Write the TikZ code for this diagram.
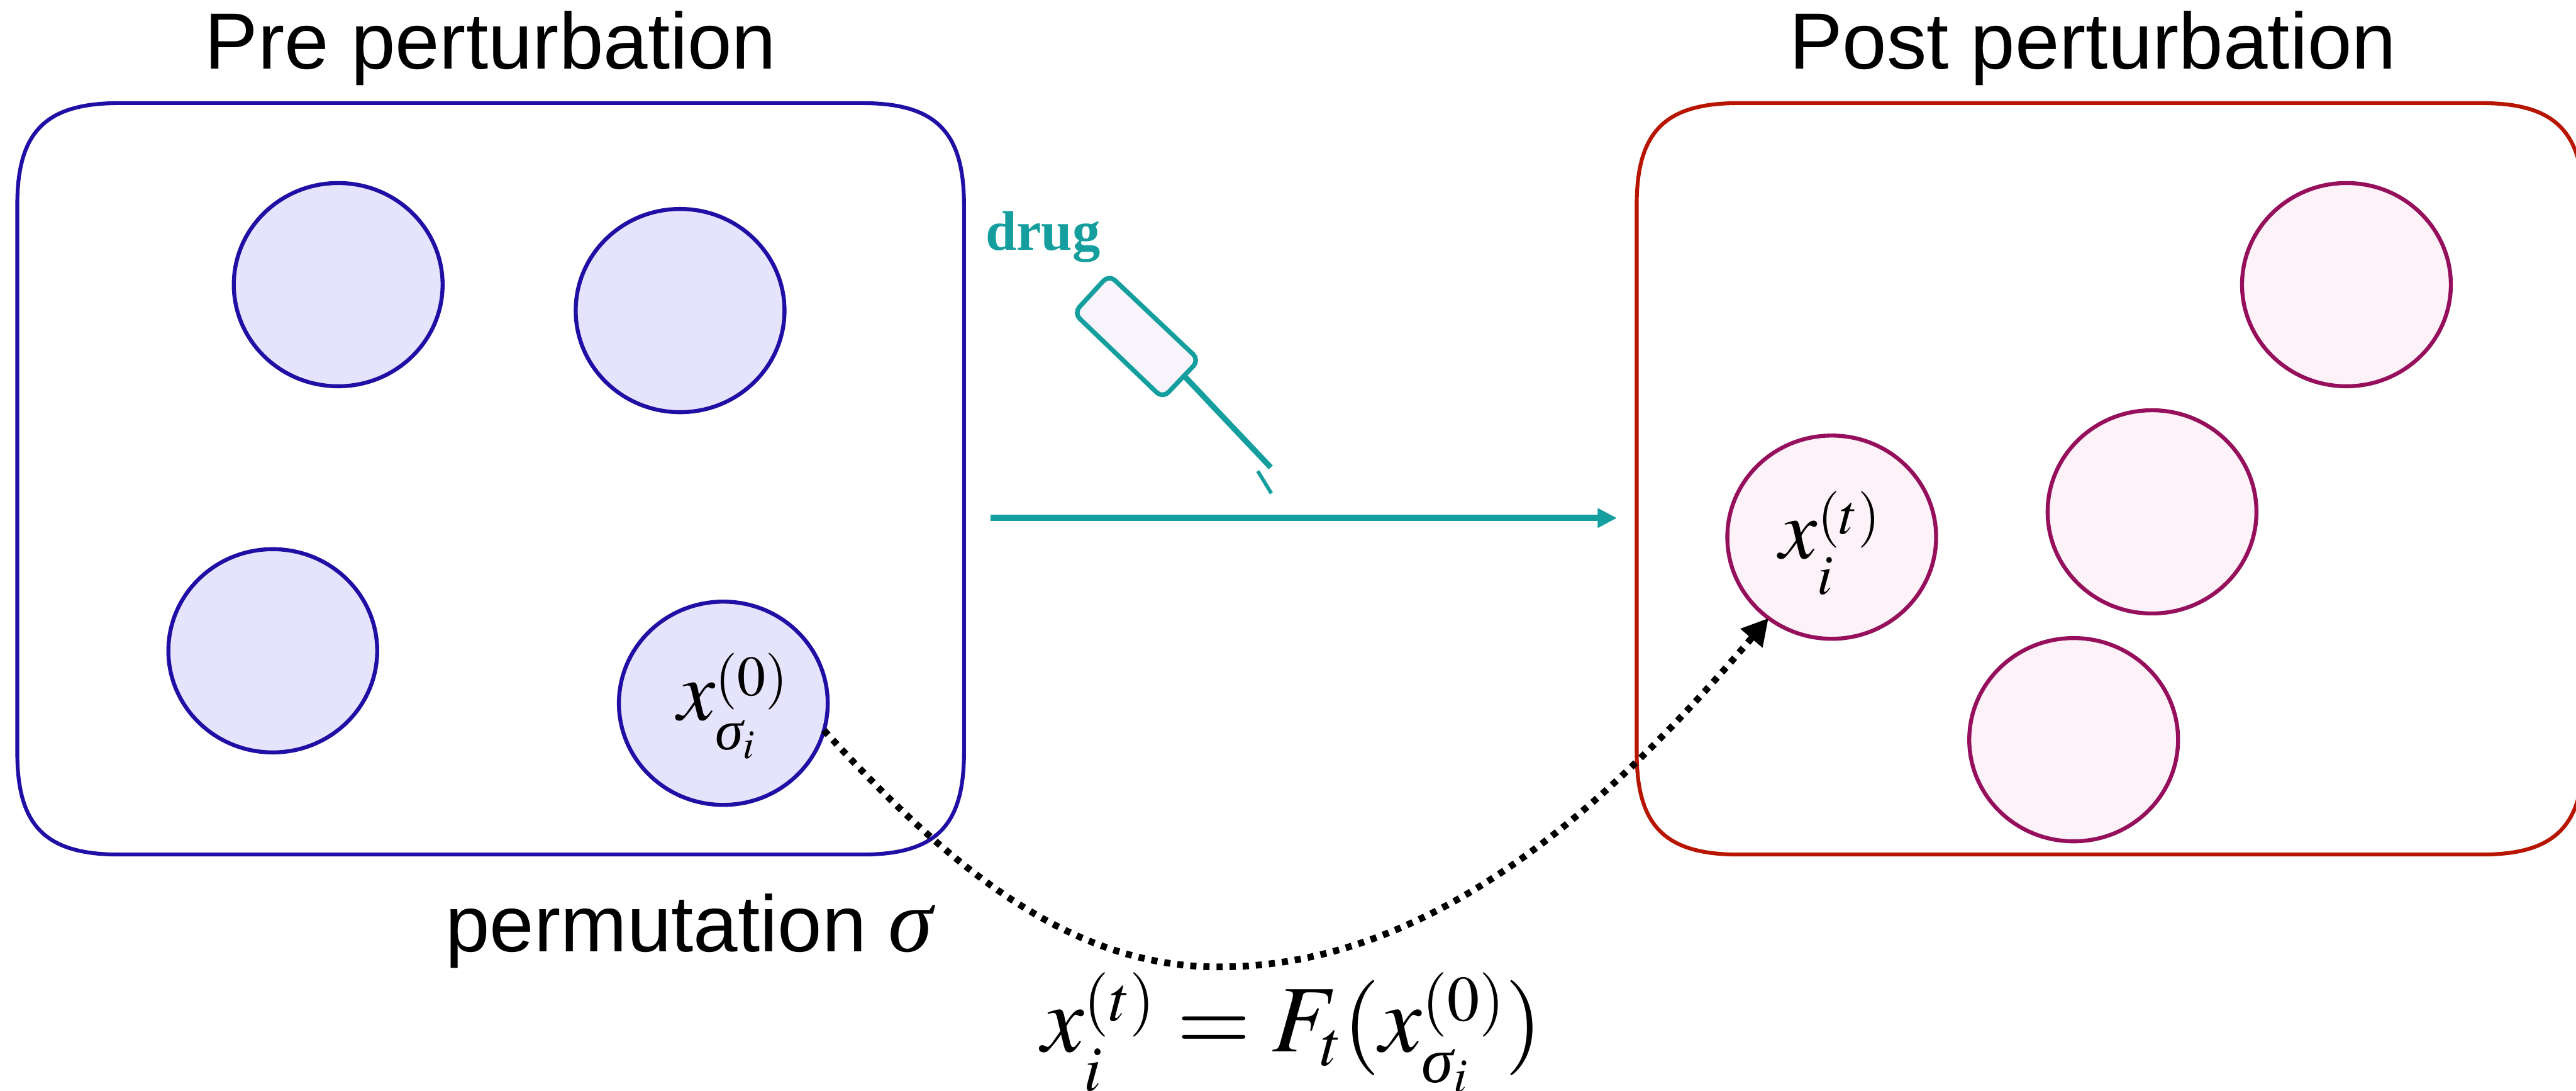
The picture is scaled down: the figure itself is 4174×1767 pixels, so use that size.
\documentclass[tikz,border=0pt]{standalone}
\usepackage{mathptmx}
\usepackage{amsmath}
\usepackage[no-math]{fontspec}
\setmainfont{Liberation Sans}
\newfontfamily\drugfont{Liberation Serif}
\newcommand{\sgm}{\text{\drugfont\itshape σ}}
\newcommand{\shiftscr}[2]{\smash{\raisebox{-#1pt}{$\scriptstyle #2$}}}
\DeclareMathSizes{33}{33}{22}{16}
\DeclareMathSizes{37}{37}{25}{19}
\usetikzlibrary{shapes.geometric,arrows.meta}
\definecolor{preblue}{HTML}{1F0FA5}
\definecolor{prefill}{HTML}{E6E4FC}
\definecolor{postred}{HTML}{B81500}
\definecolor{postline}{HTML}{960F5C}
\definecolor{postfill}{HTML}{FEF2F9}
\definecolor{drugteal}{HTML}{149E9E}
\definecolor{vialfill}{HTML}{F7F5FB}
\tikzset{
  frame/.style={line width=1.5pt},
  cell/.style={ellipse,draw,line width=1.55pt,minimum width=81.2pt,minimum height=79pt,inner sep=0pt,outer sep=0pt},
  precell/.style={cell,draw=preblue,fill=prefill},
  postcell/.style={cell,draw=postline,fill=postfill},
  heading/.style={font=\fontsize{31}{37}\selectfont,anchor=base,inner sep=0pt},
  mathlabel/.style={font=\fontsize{33}{40}\selectfont,anchor=base west,inner sep=0pt},
}
\begin{document}
\begin{tikzpicture}[x=0.24pt,y=-0.24pt]
\useasboundingbox (0,0) rectangle (4174,1767);
% frames
\draw[frame,preblue] (28,332) .. controls (28,213) and (74,167) .. (193,167) -- (1397,167) .. controls (1516,167) and (1562,213) .. (1562,332) -- (1562,1219) .. controls (1562,1338) and (1516,1384) .. (1397,1384) -- (193,1384) .. controls (74,1384) and (28,1338) .. (28,1219) -- cycle;
\draw[frame,postred] (2652,332) .. controls (2652,213) and (2698,167) .. (2817,167) -- (4021,167) .. controls (4140,167) and (4186,213) .. (4186,332) -- (4186,1219) .. controls (4186,1338) and (4140,1384) .. (4021,1384) -- (2817,1384) .. controls (2698,1384) and (2652,1338) .. (2652,1219) -- cycle;
% headings
\node[heading] (prehead) at (795,112) {Pre perturbation};
\node[heading] (posthead) at (3391,112) {Post perturbation};
% cells
\node[precell] (a1) at (548,461) {};
\node[precell] (a2) at (1102,503) {};
\node[precell] (a3) at (442,1054) {};
\node[precell] (a4) at (1172,1139) {};
\node[mathlabel] (a4text) at (1097,1166) {$x_{\shiftscr{3.5}{\sgm_i}}^{\shiftscr{2.5}{(0)}}$};
\node[postcell] (b1) at (3802,461) {};
\node[postcell] (b2) at (3487,829) {};
\node[postcell] (b3) at (2968,870) {};
\node[mathlabel] (b3text) at (2883,904) {$x_{\shiftscr{6}{i}}^{\shiftscr{2.5}{(t)}}$};
\node[postcell] (b4) at (3360,1198) {};
% drug
\node[font=\drugfont\bfseries\fontsize{21.7}{26}\selectfont,text=drugteal,anchor=base west,inner sep=0pt] (druglabel) at (1596,405) {drug};
\draw[line width=1.8pt,draw=drugteal,fill=vialfill,rounded corners=3.2pt] (1797,445) -- (1943,583) -- (1884,645) -- (1740,507) -- cycle;
\coordinate (needleA) at (1918,608);
\coordinate (needleB) at (2059,757);
\coordinate (tipA) at (2038,763);
\coordinate (tipB) at (2060,799);
\draw[line width=2.2pt,drugteal] (needleA) -- (needleB);
\draw[line width=1.4pt,drugteal] (tipA) -- (tipB);
\coordinate (drugstart) at (1605,839);
\coordinate (drugend) at (2620,839);
\draw[line width=2.5pt,drugteal,-{Triangle[length=7.5pt,width=7.2pt]}] (drugstart) -- (drugend);
% mapping
\coordinate (lowest) at (1975,1566);
\draw[line width=2.6pt,dash pattern=on 2.4pt off 2.7pt,-{Triangle[length=10.3pt,width=10.6pt]}]
  (a4.-15) .. controls (1560,1430) and (1750,1566) .. (lowest)
  .. controls (2330,1566) and (2620,1290) .. (b3.232);
% labels
\node[font=\fontsize{31}{37}\selectfont,anchor=base west,inner sep=0pt] (perm) at (721,1541) {permutation \fontsize{35}{40}\selectfont$\sgm$};
\node[font=\fontsize{37}{46}\selectfont,inner sep=0pt,anchor=base west] (formula) at (1687,1703) {$x_{\shiftscr{6}{i}}^{\shiftscr{1.5}{(t)}} = F_t(x_{\shiftscr{3}{\sgm_i}}^{\shiftscr{1.5}{(0)}})$};
\end{tikzpicture}
\end{document}
